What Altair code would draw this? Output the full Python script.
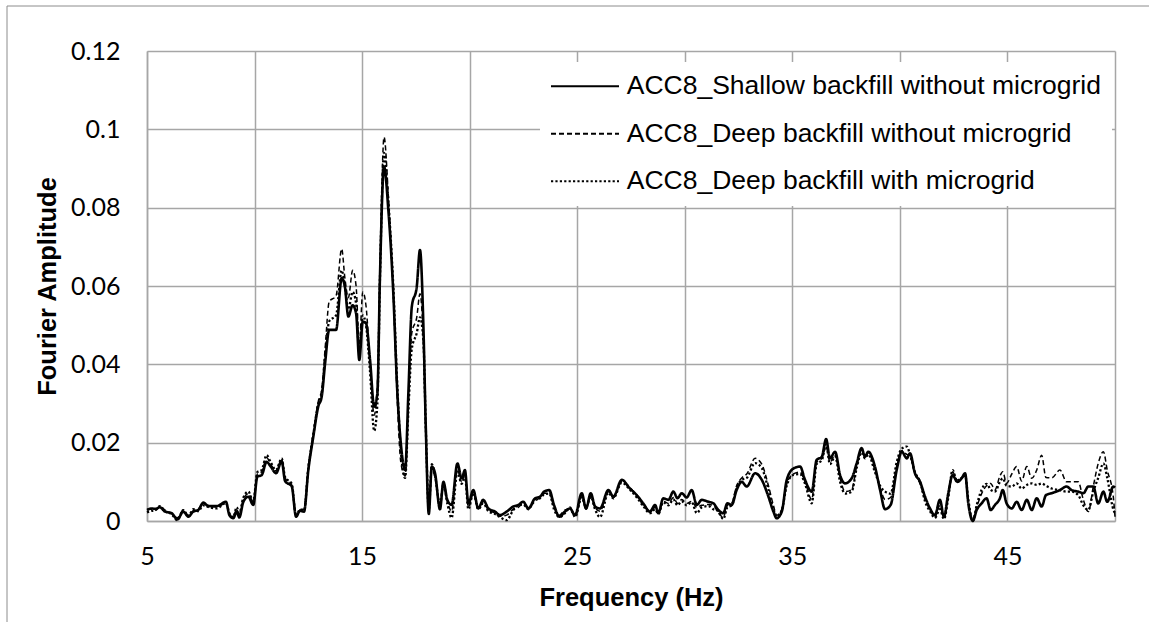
import altair as alt
import pandas as pd

# Frequency grid (Hz) shared by the three spectra
freq = [
    5.00, 5.22, 5.40, 5.60, 5.84, 6.15, 6.41, 6.69, 6.92, 7.15, 7.38, 7.62, 7.85, 8.24, 8.67, 8.83,
    9.01, 9.17, 9.29, 9.48, 9.71, 9.94, 10.13, 10.33, 10.56, 10.75, 11.00, 11.26, 11.42, 11.73, 11.93,
    12.11, 12.30, 12.50, 12.73, 12.96, 13.12, 13.28, 13.47, 13.79, 14.05, 14.20, 14.36, 14.56, 14.72,
    14.87, 15.03, 15.18, 15.37, 15.56, 15.71, 15.83, 16.02, 16.22, 16.45, 16.64, 16.80, 17.00, 17.15,
    17.31, 17.54, 17.69, 17.85, 17.96, 18.10, 18.24, 18.39, 18.62, 18.78, 18.96, 19.16, 19.43, 19.63,
    19.78, 19.94, 20.17, 20.40, 20.63, 20.87, 21.18, 21.41, 21.72, 22.03, 22.26, 22.49, 22.73, 23.04,
    23.27, 23.46, 23.70, 23.92, 24.17, 24.43, 24.66, 24.90, 25.21, 25.41, 25.63, 25.83, 26.06, 26.45,
    26.68, 27.07, 27.45, 27.77, 28.07, 28.38, 28.62, 28.77, 29.00, 29.24, 29.47, 29.66, 29.86, 30.09,
    30.32, 30.56, 30.79, 31.10, 31.33, 31.56, 31.79, 31.98, 32.18, 32.41, 32.65, 32.88, 33.27, 33.58,
    33.89, 34.12, 34.27, 34.51, 34.74, 35.05, 35.36, 35.59, 35.90, 36.13, 36.37, 36.57, 36.75, 36.99,
    37.22, 37.45, 37.76, 37.99, 38.22, 38.38, 38.53, 38.84, 39.08, 39.31, 39.57, 39.85, 40.09, 40.32,
    40.47, 40.70, 40.94, 41.17, 41.40, 41.63, 41.86, 42.05, 42.25, 42.45, 42.67, 42.87, 43.03, 43.18,
    43.39, 43.57, 43.80, 44.03, 44.22, 44.42, 44.65, 44.78, 44.96, 45.20, 45.43, 45.66, 45.90, 46.13,
    46.36, 46.59, 46.79, 47.06, 47.44, 47.75, 47.98, 48.29, 48.53, 48.76, 48.99, 49.22, 49.46, 49.64,
    49.92, 50.00,
]

shallow_no_grid = [
    .0028, .0032, .0031, .0035, .0024, .0020, .0004, .0024, .0011, .0024, .0028, .0047, .0038, .0038, .0049, .0015,
    .0007, .0024, .0009, .0049, .0062, .0041, .0113, .0117, .0151, .0139, .0122, .0153, .0102, .0088, .0011,
    .0026, .0024, .0130, .0215, .0292, .0317, .0403, .0488, .0488, .0620, .0598, .0522, .0551, .0530,
    .0411, .0509, .0505, .0411, .0292, .0326, .0624, .0905, .0794, .0581, .0326, .0198, .0130, .0326,
    .0547, .0598, .0692, .0496, .0241, .0018, .0139, .0122, .0030, .0100, .0054, .0041, .0147, .0109,
    .0130, .0045, .0079, .0032, .0054, .0032, .0024, .0015, .0024, .0037, .0041, .0049, .0032, .0058,
    .0062, .0075, .0079, .0041, .0011, .0024, .0032, .0015, .0071, .0032, .0071, .0037, .0032, .0079,
    .0062, .0105, .0083, .0066, .0045, .0024, .0041, .0020, .0058, .0054, .0075, .0058, .0071, .0060,
    .0079, .0041, .0054, .0049, .0045, .0028, .0020, .0045, .0041, .0079, .0100, .0088, .0122, .0105,
    .0062, .0024, .0007, .0024, .0105, .0134, .0139, .0105, .0075, .0156, .0164, .0209, .0160, .0177,
    .0117, .0096, .0109, .0147, .0186, .0164, .0177, .0139, .0079, .0030, .0041, .0130, .0177, .0160,
    .0173, .0122, .0100, .0062, .0032, .0015, .0054, .0011, .0071, .0117, .0100, .0109, .0122, .0045,
    .0000, .0028, .0045, .0058, .0028, .0041, .0058, .0079, .0045, .0032, .0049, .0028, .0054, .0028,
    .0058, .0037, .0066, .0071, .0079, .0088, .0079, .0075, .0071, .0088, .0088, .0045, .0075, .0049,
    .0088, .0085,
]

deep_no_grid = [
    .0030, .0030, .0028, .0036, .0028, .0018, .0008, .0028, .0015, .0026, .0030, .0044, .0040, .0036, .0045, .0018,
    .0012, .0030, .0015, .0055, .0070, .0048, .0120, .0125, .0162, .0145, .0128, .0158, .0110, .0092, .0015,
    .0028, .0030, .0140, .0225, .0305, .0335, .0440, .0560, .0575, .0695, .0620, .0570, .0640, .0600,
    .0450, .0585, .0550, .0400, .0270, .0350, .0650, .0980, .0830, .0580, .0300, .0150, .0115, .0300,
    .0480, .0520, .0580, .0450, .0220, .0040, .0135, .0110, .0045, .0090, .0050, .0025, .0130, .0100,
    .0120, .0035, .0070, .0035, .0050, .0028, .0020, .0012, .0015, .0030, .0035, .0045, .0035, .0050,
    .0060, .0070, .0072, .0035, .0015, .0028, .0030, .0012, .0065, .0030, .0065, .0035, .0025, .0075,
    .0060, .0100, .0085, .0065, .0040, .0025, .0035, .0022, .0050, .0045, .0060, .0045, .0055, .0045,
    .0050, .0035, .0040, .0042, .0040, .0020, .0010, .0040, .0045, .0090, .0110, .0120, .0160, .0145,
    .0090, .0040, .0015, .0030, .0095, .0120, .0125, .0100, .0055, .0150, .0160, .0190, .0150, .0170,
    .0110, .0075, .0080, .0140, .0180, .0165, .0175, .0130, .0085, .0055, .0060, .0140, .0180, .0170,
    .0165, .0120, .0095, .0055, .0030, .0010, .0040, .0008, .0065, .0125, .0105, .0110, .0115, .0050,
    .0005, .0035, .0070, .0090, .0096, .0080, .0115, .0126, .0096, .0120, .0139, .0102, .0139, .0109,
    .0130, .0168, .0111, .0110, .0130, .0100, .0100, .0100, .0054, .0024, .0088, .0147, .0177, .0130,
    .0062, .0011,
]

deep_with_grid = [
    .0022, .0026, .0028, .0038, .0025, .0017, .0002, .0028, .0012, .0030, .0025, .0040, .0036, .0032, .0046, .0020,
    .0010, .0035, .0020, .0060, .0075, .0050, .0125, .0130, .0168, .0150, .0130, .0160, .0112, .0095, .0012,
    .0030, .0028, .0135, .0220, .0300, .0325, .0420, .0510, .0525, .0640, .0600, .0540, .0585, .0555,
    .0430, .0525, .0500, .0380, .0230, .0300, .0620, .0940, .0815, .0600, .0340, .0180, .0110, .0280,
    .0440, .0480, .0520, .0460, .0240, .0030, .0145, .0115, .0040, .0095, .0045, .0008, .0125, .0095,
    .0115, .0030, .0072, .0030, .0045, .0025, .0018, .0010, .0002, .0028, .0040, .0042, .0030, .0055,
    .0058, .0068, .0070, .0030, .0010, .0020, .0035, .0010, .0060, .0035, .0062, .0030, .0010, .0072,
    .0058, .0098, .0080, .0060, .0038, .0020, .0030, .0018, .0048, .0040, .0055, .0040, .0050, .0040,
    .0048, .0020, .0035, .0038, .0030, .0025, .0005, .0035, .0040, .0085, .0105, .0110, .0148, .0135,
    .0080, .0030, .0010, .0028, .0090, .0118, .0120, .0095, .0045, .0145, .0155, .0195, .0145, .0165,
    .0100, .0070, .0075, .0135, .0175, .0160, .0170, .0125, .0090, .0075, .0070, .0150, .0185, .0190,
    .0170, .0125, .0100, .0050, .0025, .0008, .0030, .0005, .0060, .0130, .0100, .0110, .0118, .0055,
    .0000, .0040, .0080, .0095, .0080, .0075, .0100, .0109, .0090, .0088, .0096, .0083, .0092, .0096,
    .0092, .0096, .0090, .0083, .0079, .0075, .0075, .0066, .0040, .0028, .0075, .0110, .0147, .0110,
    .0030, .0020,
]

series_names = [
    "ACC8_Shallow backfill without microgrid",
    "ACC8_Deep backfill without microgrid",
    "ACC8_Deep backfill with microgrid",
]
series_values = [shallow_no_grid, deep_no_grid, deep_with_grid]
series_dash = [[1, 0], [5, 3], [2.2, 2.2]]
series_width = [2.6, 1.5, 2.3]

x_ticks = [5, 10, 15, 20, 25, 30, 35, 40, 45, 50]
y_ticks = [0, 0.02, 0.04, 0.06, 0.08, 0.1, 0.12]

records = []
for name, values, w in zip(series_names, series_values, series_width):
    for f, v in zip(freq, values):
        records.append({"Frequency": f, "Amplitude": v, "Series": name, "Width": w})
df = pd.DataFrame(records)

GRID = "#a6a6a6"
TEXT = "#000000"
TICK_FONT = "Lato"
TICK_SIZE = 25
TITLE_FONT = "Liberation Sans"

lines = alt.Chart(df).mark_line(interpolate="monotone", color="black").encode(
    x=alt.X(
        "Frequency:Q",
        scale=alt.Scale(domain=[5, 50], nice=False, zero=False),
        axis=alt.Axis(
            values=x_ticks,
            labelExpr="datum.value % 10 == 5 ? datum.label : ''",
            title="Frequency (Hz)",
            ticks=False,
            tickSize=0,
            labelFlush=False,
            labelFont=TICK_FONT,
            labelFontSize=TICK_SIZE,
            labelColor=TEXT,
            labelPadding=43,
            labelBaseline="alphabetic",
            titleFont=TITLE_FONT,
            titleFontWeight="bold",
            titleFontSize=25.5,
            titleColor=TEXT,
            titleY=84,
            titleBaseline="alphabetic",
        ),
    ),
    y=alt.Y(
        "Amplitude:Q",
        scale=alt.Scale(domain=[0, 0.12], nice=False),
        axis=alt.Axis(
            values=y_ticks,
            labelExpr="format(datum.value, '.2~f')",
            title="Fourier Amplitude",
            ticks=False,
            tickSize=0,
            labelFlush=False,
            labelFont=TICK_FONT,
            labelFontSize=TICK_SIZE,
            labelColor=TEXT,
            labelPadding=27,
            titleFont=TITLE_FONT,
            titleFontWeight="bold",
            titleFontSize=25.5,
            titleColor=TEXT,
            titleX=-100,
            titleY=235,
            titleBaseline="middle",
        ),
    ),
    strokeDash=alt.StrokeDash(
        "Series:N",
        sort=series_names,
        scale=alt.Scale(domain=series_names, range=series_dash),
        legend=alt.Legend(
            title=None,
            orient="none",
            legendX=393,
            legendY=11,
            fillColor="white",
            padding=11,
            symbolType="M-4,0H4",
            symbolSize=289,
            symbolOffset=20.75,
            symbolStrokeColor="black",
            symbolStrokeWidth=2.2,
            labelOffset=28.5,
            labelFont=TITLE_FONT,
            labelFontSize=26.5,
            labelColor=TEXT,
            labelLimit=0,
            rowPadding=20.5,
        ),
    ),
    strokeWidth=alt.StrokeWidth("Width:Q", scale=None, legend=None),
)

# Outer chart frame (top and left edges)
frame_src = alt.Data(values=[{"k": 0}])
frame_top = alt.Chart(frame_src).mark_rule(color="#8c8c8c", strokeWidth=1).encode(
    x=alt.value(-140), x2=alt.value(1002), y=alt.value(-45)
)
frame_left = alt.Chart(frame_src).mark_rule(color="#8c8c8c", strokeWidth=1).encode(
    x=alt.value(-140), y=alt.value(-45), y2=alt.value(571)
)

chart = alt.layer(lines, frame_top, frame_left).properties(
    width=968,
    height=470,
    autosize=alt.AutoSizeParams(type="none"),
    padding={"left": 147, "top": 51, "right": 34, "bottom": 101},
    background="white",
).configure_view(
    stroke=None
).configure_axis(
    gridColor=GRID,
    gridWidth=1.5,
    domainColor=GRID,
    domainWidth=1.5,
)

chart.save("out.html", embed_options={"renderer": "svg", "actions": False})
